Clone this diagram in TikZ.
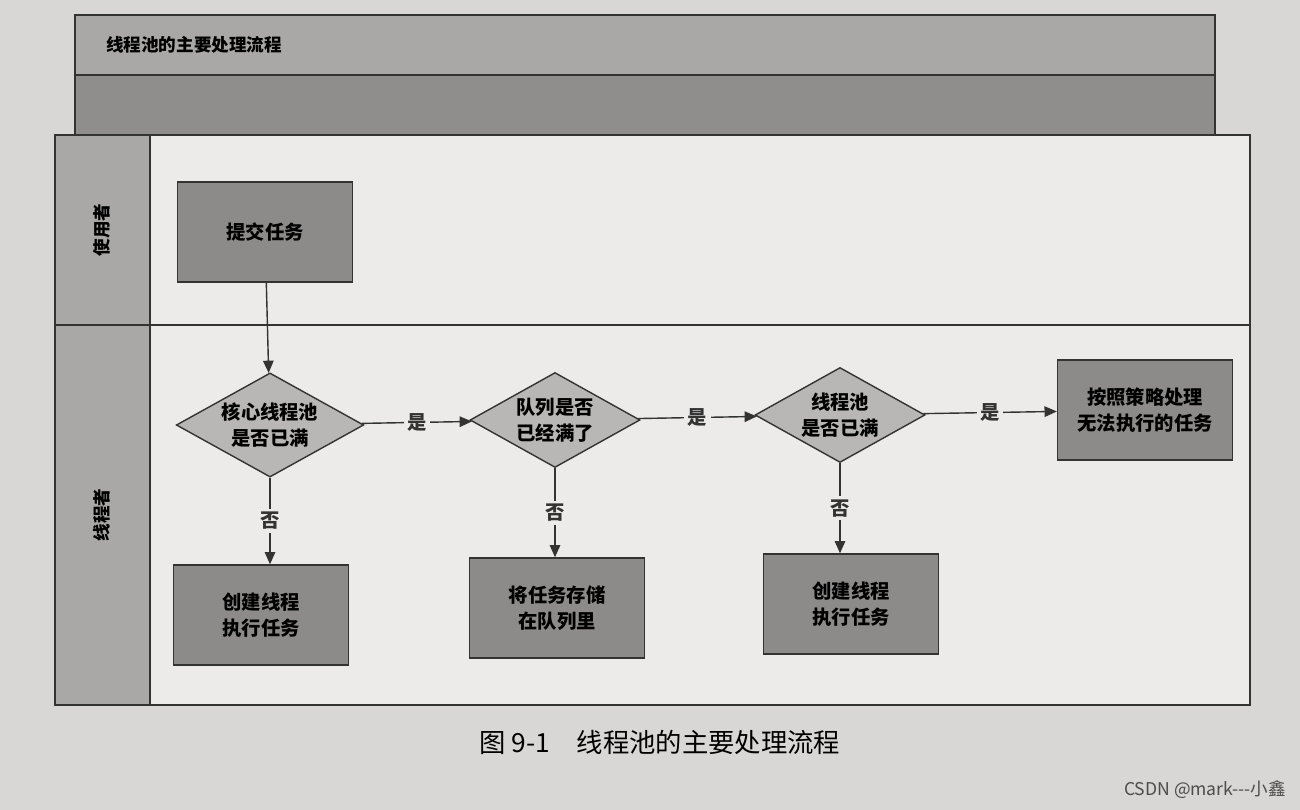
\documentclass[tikz,border=0pt]{standalone}
\usepackage{fontspec}
\setmainfont{Noto Sans CJK SC}
\usetikzlibrary{shapes.geometric,arrows.meta}
\definecolor{paper}{HTML}{D9D7D5}
\definecolor{lanebg}{HTML}{ECEBEA}
\definecolor{band}{HTML}{A9A8A7}
\definecolor{band2}{HTML}{8F8E8D}
\definecolor{boxf}{HTML}{8C8B8A}
\definecolor{diaf}{HTML}{B8B7B6}
\begin{document}
\begin{tikzpicture}[x=0.02cm,y=-0.02cm,
  proc/.style={draw=black!80,thick,fill=boxf,align=center,minimum width=3.5cm,minimum height=2cm,font=\bfseries\fontsize{11}{15}\selectfont},
  dec/.style={diamond,aspect=1.8,draw=black!80,thick,fill=diaf,align=center,inner sep=1pt,minimum width=3.4cm,minimum height=1.9cm,font=\bfseries\fontsize{11}{15}\selectfont},
  arr/.style={-{Triangle[length=7pt,width=6pt]},thick,black!80},
  lab/.style={font=\bfseries\fontsize{11}{13}\selectfont,fill=lanebg,inner sep=2pt}]
\useasboundingbox (0,0) rectangle (1300,810);
\fill[paper] (0,0) rectangle (1300,810);
% frame
\fill[band] (75,15) rectangle (1215,75);
\fill[band2] (75,75) rectangle (1215,135);
\draw[thick,black!80] (75,15) rectangle (1215,135) (75,75) -- (1215,75);
\fill[lanebg] (55,135) rectangle (1250,705);
\fill[band] (55,135) rectangle (150,705);
\draw[thick,black!80] (55,135) rectangle (1250,705) (150,135) -- (150,705) (55,325) -- (1250,325);
\node[font=\bfseries\fontsize{10}{12}\selectfont,anchor=west] (title) at (100,45) {线程池的主要处理流程};
\node[font=\bfseries\fontsize{10}{12}\selectfont,rotate=90] (u1) at (102,230) {使用者};
\node[font=\bfseries\fontsize{10}{12}\selectfont,rotate=90] (u2) at (102,515) {线程者};
% nodes
\node[proc] (s) at (265,232) {提交任务};
\node[dec] (d1) at (270,425) {核心线程池\\是否已满};
\node[dec] (d2) at (555,420) {队列是否\\已经满了};
\node[dec] (d3) at (840,415) {线程池\\是否已满};
\node[proc] (r) at (1145,410) {按照策略处理\\无法执行的任务};
\node[proc] (b1) at (261,615) {创建线程\\执行任务};
\node[proc] (b2) at (557,608) {将任务存储\\在队列里};
\node[proc] (b3) at (851,604) {创建线程\\执行任务};
% arrows
\draw[arr] (s) -- (d1);
\draw[arr] (d1) -- node[lab]{是} (d2);
\draw[arr] (d2) -- node[lab]{是} (d3);
\draw[arr] (d3) -- node[lab]{是} (r);
\draw[arr] (d1.south) -- node[lab]{否} (d1.south |- b1.north);
\draw[arr] (d2.south) -- node[lab]{否} (d2.south |- b2.north);
\draw[arr] (d3.south) -- node[lab]{否} (d3.south |- b3.north);
\node[font=\fontsize{15}{18}\selectfont] (cap) at (660,742) {图 9-1\quad 线程池的主要处理流程};
\node[font=\fontsize{10}{12}\selectfont,text=black!70] (csdn) at (1205,790) {CSDN @mark{-}{-}{-}小鑫};
\end{tikzpicture}
\end{document}
